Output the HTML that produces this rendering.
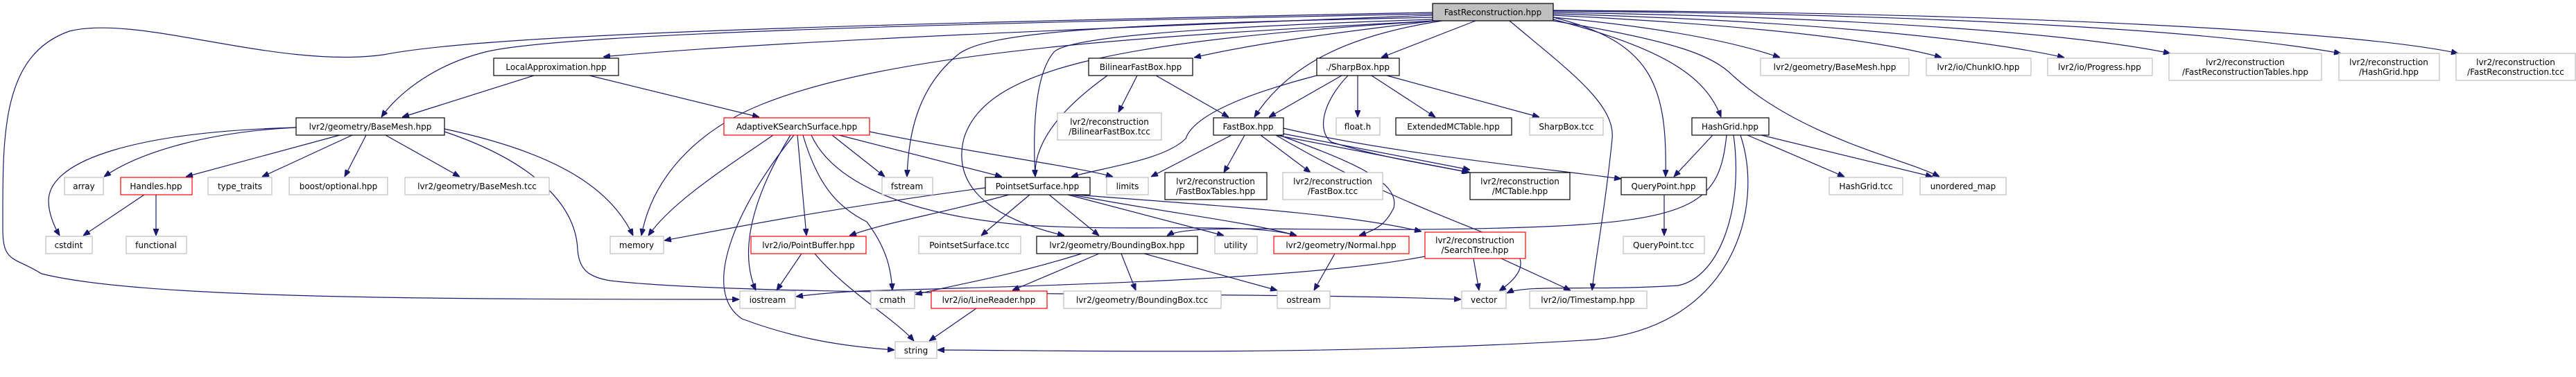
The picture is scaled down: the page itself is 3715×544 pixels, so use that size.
<!DOCTYPE html>
<html><head><meta charset="utf-8"><style>
html,body{margin:0;padding:0;background:#fff;}
svg{display:block;}
text{font-family:"DejaVu Sans","Liberation Sans",sans-serif;font-size:12px;fill:#000;}
.e{fill:none;stroke:#191970;stroke-width:1.2;marker-end:url(#a);}
.k{fill:#fff;stroke:#000;stroke-width:1.2;}
.g{fill:#fff;stroke:#bfbfbf;stroke-width:1.2;}
.r{fill:#fff;stroke:#ff0000;stroke-width:1.2;}
</style></head><body>
<svg width="3715" height="544" viewBox="0 0 3715 544" xmlns="http://www.w3.org/2000/svg">
<defs><marker id="a" markerWidth="10" markerHeight="8" refX="10" refY="4" orient="auto" markerUnits="userSpaceOnUse"><path d="M0,0 L10,4 L0,8 z" fill="#191970" stroke="#191970"/></marker></defs>
<g>
<path class="e" d="M2066,22 C1600,40 1100,60 870,82"/>
<path class="e" d="M2066,20 C1300,35 800,50 700,75 C620,95 570,140 550,169"/>
<path class="e" d="M2066,18 C1200,35 700,50 553,79 C400,100 200,20 100,45 C0,80 4,200 4,330 C4,380 20,370 60,395 C200,430 600,432 1066,432"/>
<path class="e" d="M2070,30 C1700,50 1300,70 1100,150 C1000,190 940,260 925,340"/>
<path class="e" d="M2066,25 C1600,35 1420,45 1380,80 C1320,130 1310,200 1308,255"/>
<path class="e" d="M2066,28 C1700,40 1540,55 1520,75 C1490,110 1490,200 1493,255"/>
<path class="e" d="M2070,30 C1600,60 1420,100 1390,200 C1370,280 1450,320 1535,340"/>
<path class="e" d="M2070,30 C1900,50 1800,65 1722,83"/>
<path class="e" d="M2128,30 L1992,83"/>
<path class="e" d="M2080,30 C1950,50 1860,90 1809,169"/>
<path class="e" d="M2177,30 C2260,100 2330,150 2325,200 C2315,300 2300,380 2296,419"/>
<path class="e" d="M2240,25 C2380,60 2405,120 2402,255"/>
<path class="e" d="M2240,28 C2400,70 2460,110 2482,169"/>
<path class="e" d="M2240,30 C2420,60 2470,80 2500,110 C2600,200 2750,230 2797,255"/>
<path class="e" d="M2240,25 C2400,40 2500,60 2567,83"/>
<path class="e" d="M2240,22 C2500,35 2700,55 2800,83"/>
<path class="e" d="M2240,20 C2600,30 2850,55 2977,83"/>
<path class="e" d="M2240,18 C2700,25 3000,50 3130,77"/>
<path class="e" d="M2240,16 C2800,20 3200,45 3376,77"/>
<path class="e" d="M2240,15 C2900,18 3400,45 3545,77"/>
<path class="e" d="M2470,195 L2414,255"/>
<path class="e" d="M2520,195 L2660,255"/>
<path class="e" d="M2540,195 L2787,255"/>
<path class="e" d="M2490,195 C2480,290 2450,320 2200,328 C1900,338 1720,320 1683,340"/>
<path class="e" d="M2500,195 C2515,300 2480,400 2420,412 C2300,420 2200,410 2173,423"/>
<path class="e" d="M2510,195 C2545,300 2500,470 2300,490 C1900,515 1500,505 1352,505"/>
<path class="e" d="M770,109 L580,169"/>
<path class="e" d="M850,109 L1095,169"/>
<path class="e" d="M427,184 C300,190 200,220 150,255"/>
<path class="e" d="M490,195 L268,255"/>
<path class="e" d="M508,195 L378,255"/>
<path class="e" d="M528,195 L497,255"/>
<path class="e" d="M556,195 L663,255"/>
<path class="e" d="M427,184 C200,190 70,230 70,290 C70,310 80,330 86,340"/>
<path class="e" d="M641,186 C800,220 880,270 913,340"/>
<path class="e" d="M641,190 C760,230 830,290 833,360 C835,390 850,400 880,405 C1100,430 1800,420 2107,432"/>
<path class="e" d="M208,281 L120,340"/>
<path class="e" d="M225,281 L225,340"/>
<path class="e" d="M1115,195 C1050,240 970,290 935,340"/>
<path class="e" d="M1140,195 C1100,260 1060,350 1090,419"/>
<path class="e" d="M1145,195 C1060,300 1010,420 1070,460 C1150,490 1220,500 1290,505"/>
<path class="e" d="M1150,195 L1163,340"/>
<path class="e" d="M1158,195 C1180,270 1210,300 1250,320 C1280,360 1285,390 1287,419"/>
<path class="e" d="M1200,195 L1276,255"/>
<path class="e" d="M1254,190 C1400,220 1550,240 1605,255"/>
<path class="e" d="M1210,195 L1445,255"/>
<path class="e" d="M1170,195 C1200,260 1300,310 1480,325 C1650,335 1800,320 1870,340"/>
<path class="e" d="M1421,271 C1200,300 1050,330 958,347"/>
<path class="e" d="M1640,109 L1613,162"/>
<path class="e" d="M1667,109 L1772,169"/>
<path class="e" d="M1597,109 C1540,150 1490,200 1493,255"/>
<path class="e" d="M1899,109 C1780,140 1720,170 1710,200 C1680,230 1600,240 1545,255"/>
<path class="e" d="M1935,109 L1830,169"/>
<path class="e" d="M1958,109 L1958,169"/>
<path class="e" d="M1978,109 L2070,169"/>
<path class="e" d="M2000,109 L2220,169"/>
<path class="e" d="M1944,109 C1905,150 1900,190 1920,205 C2000,230 2080,240 2118,249"/>
<path class="e" d="M1776,195 L1660,255"/>
<path class="e" d="M1795,195 L1765,249"/>
<path class="e" d="M1818,195 L1890,249"/>
<path class="e" d="M1840,195 L2120,249"/>
<path class="e" d="M1846,192 L2120,245"/>
<path class="e" d="M1851,185 C2000,220 2200,240 2338,258"/>
<path class="e" d="M1845,195 C1940,230 2020,260 2010,300 C2000,320 1990,330 1960,340"/>
<path class="e" d="M1840,195 C1950,260 2050,300 2150,340 C2220,370 2190,400 2162,420"/>
<path class="e" d="M1455,281 C1350,310 1280,320 1225,340"/>
<path class="e" d="M1485,281 L1415,340"/>
<path class="e" d="M1513,281 L1585,340"/>
<path class="e" d="M1540,281 L1765,340"/>
<path class="e" d="M1545,281 C1700,310 1800,320 1870,340"/>
<path class="e" d="M1550,281 C1800,300 1950,310 2050,334"/>
<path class="e" d="M1156,366 L1120,419"/>
<path class="e" d="M1175,366 C1220,420 1290,460 1318,492"/>
<path class="e" d="M1560,366 C1450,400 1380,410 1320,425"/>
<path class="e" d="M1585,366 L1460,419"/>
<path class="e" d="M1617,366 L1638,419"/>
<path class="e" d="M1650,366 L1842,419"/>
<path class="e" d="M2055,370 C1900,400 1600,410 1240,420 C1200,422 1170,425 1148,428"/>
<path class="e" d="M1925,366 L1895,419"/>
<path class="e" d="M2125,373 L2133,419"/>
<path class="e" d="M2165,373 L2265,419"/>
<path class="e" d="M2400,281 L2400,340"/>
<path class="e" d="M1408,445 L1340,492"/>
</g>
<g>
<rect x="2066" y="5" width="174" height="25" fill="#bfbfbf" stroke="#000" stroke-width="1.2"/><text x="2153" y="22" text-anchor="middle">FastReconstruction.hpp</text>
<rect class="k" x="712" y="84" width="180" height="25"/><text x="802" y="101" text-anchor="middle">LocalApproximation.hpp</text>
<rect class="k" x="427" y="170" width="214" height="25"/><text x="534" y="187" text-anchor="middle">lvr2/geometry/BaseMesh.hpp</text>
<rect class="r" x="1044" y="170" width="210" height="25"/><text x="1149" y="187" text-anchor="middle">AdaptiveKSearchSurface.hpp</text>
<rect class="k" x="1570" y="84" width="150" height="25"/><text x="1645" y="101" text-anchor="middle">BilinearFastBox.hpp</text>
<rect class="k" x="1899" y="84" width="119" height="25"/><text x="1958" y="101" text-anchor="middle">./SharpBox.hpp</text>
<rect class="g" x="2539" y="84" width="214" height="25"/><text x="2646" y="101" text-anchor="middle">lvr2/geometry/BaseMesh.hpp</text>
<rect class="g" x="2778" y="84" width="151" height="25"/><text x="2853" y="101" text-anchor="middle">lvr2/io/ChunkIO.hpp</text>
<rect class="g" x="2953" y="84" width="151" height="25"/><text x="3028" y="101" text-anchor="middle">lvr2/io/Progress.hpp</text>
<rect class="g" x="3128" y="77" width="220" height="39"/><text x="3238" y="94" text-anchor="middle">lvr2/reconstruction</text><text x="3238" y="108" text-anchor="middle">/FastReconstructionTables.hpp</text>
<rect class="g" x="3373" y="77" width="145" height="39"/><text x="3445" y="94" text-anchor="middle">lvr2/reconstruction</text><text x="3445" y="108" text-anchor="middle">/HashGrid.hpp</text>
<rect class="g" x="3542" y="77" width="172" height="39"/><text x="3628" y="94" text-anchor="middle">lvr2/reconstruction</text><text x="3628" y="108" text-anchor="middle">/FastReconstruction.tcc</text>
<rect class="g" x="1525" y="163" width="150" height="39"/><text x="1600" y="180" text-anchor="middle">lvr2/reconstruction</text><text x="1600" y="194" text-anchor="middle">/BilinearFastBox.tcc</text>
<rect class="k" x="1750" y="170" width="101" height="25"/><text x="1800" y="187" text-anchor="middle">FastBox.hpp</text>
<rect class="g" x="1927" y="170" width="63" height="25"/><text x="1958" y="187" text-anchor="middle">float.h</text>
<rect class="k" x="2013" y="170" width="167" height="25"/><text x="2096" y="187" text-anchor="middle">ExtendedMCTable.hpp</text>
<rect class="g" x="2206" y="170" width="106" height="25"/><text x="2259" y="187" text-anchor="middle">SharpBox.tcc</text>
<rect class="k" x="2440" y="170" width="111" height="25"/><text x="2495" y="187" text-anchor="middle">HashGrid.hpp</text>
<rect class="g" x="93" y="256" width="56" height="25"/><text x="121" y="273" text-anchor="middle">array</text>
<rect class="r" x="174" y="256" width="103" height="25"/><text x="225" y="273" text-anchor="middle">Handles.hpp</text>
<rect class="g" x="300" y="256" width="92" height="25"/><text x="346" y="273" text-anchor="middle">type_traits</text>
<rect class="g" x="417" y="256" width="142" height="25"/><text x="488" y="273" text-anchor="middle">boost/optional.hpp</text>
<rect class="g" x="584" y="256" width="208" height="25"/><text x="688" y="273" text-anchor="middle">lvr2/geometry/BaseMesh.tcc</text>
<rect class="g" x="1272" y="256" width="73" height="25"/><text x="1308" y="273" text-anchor="middle">fstream</text>
<rect class="k" x="1421" y="256" width="151" height="25"/><text x="1496" y="273" text-anchor="middle">PointsetSurface.hpp</text>
<rect class="g" x="1596" y="256" width="60" height="25"/><text x="1626" y="273" text-anchor="middle">limits</text>
<rect class="k" x="1680" y="249" width="147" height="39"/><text x="1753" y="266" text-anchor="middle">lvr2/reconstruction</text><text x="1753" y="280" text-anchor="middle">/FastBoxTables.hpp</text>
<rect class="g" x="1850" y="249" width="144" height="39"/><text x="1922" y="266" text-anchor="middle">lvr2/reconstruction</text><text x="1922" y="280" text-anchor="middle">/FastBox.tcc</text>
<rect class="k" x="2120" y="249" width="144" height="39"/><text x="2192" y="266" text-anchor="middle">lvr2/reconstruction</text><text x="2192" y="280" text-anchor="middle">/MCTable.hpp</text>
<rect class="k" x="2338" y="256" width="123" height="25"/><text x="2399" y="273" text-anchor="middle">QueryPoint.hpp</text>
<rect class="g" x="2638" y="256" width="106" height="25"/><text x="2691" y="273" text-anchor="middle">HashGrid.tcc</text>
<rect class="g" x="2769" y="256" width="124" height="25"/><text x="2831" y="273" text-anchor="middle">unordered_map</text>
<rect class="g" x="66" y="341" width="67" height="25"/><text x="99" y="358" text-anchor="middle">cstdint</text>
<rect class="g" x="182" y="341" width="87" height="25"/><text x="225" y="358" text-anchor="middle">functional</text>
<rect class="g" x="880" y="341" width="77" height="25"/><text x="918" y="358" text-anchor="middle">memory</text>
<rect class="r" x="1083" y="341" width="166" height="25"/><text x="1166" y="358" text-anchor="middle">lvr2/io/PointBuffer.hpp</text>
<rect class="g" x="1325" y="341" width="147" height="25"/><text x="1398" y="358" text-anchor="middle">PointsetSurface.tcc</text>
<rect class="k" x="1495" y="341" width="232" height="25"/><text x="1611" y="358" text-anchor="middle">lvr2/geometry/BoundingBox.hpp</text>
<rect class="g" x="1752" y="341" width="61" height="25"/><text x="1782" y="358" text-anchor="middle">utility</text>
<rect class="r" x="1837" y="341" width="195" height="25"/><text x="1934" y="358" text-anchor="middle">lvr2/geometry/Normal.hpp</text>
<rect class="r" x="2055" y="335" width="145" height="38"/><text x="2127" y="351" text-anchor="middle">lvr2/reconstruction</text><text x="2127" y="365" text-anchor="middle">/SearchTree.hpp</text>
<rect class="g" x="2341" y="341" width="117" height="25"/><text x="2399" y="358" text-anchor="middle">QueryPoint.tcc</text>
<rect class="g" x="1067" y="420" width="80" height="25"/><text x="1107" y="437" text-anchor="middle">iostream</text>
<rect class="g" x="1256" y="420" width="63" height="25"/><text x="1287" y="437" text-anchor="middle">cmath</text>
<rect class="r" x="1343" y="420" width="167" height="25"/><text x="1426" y="437" text-anchor="middle">lvr2/io/LineReader.hpp</text>
<rect class="g" x="1534" y="420" width="227" height="25"/><text x="1647" y="437" text-anchor="middle">lvr2/geometry/BoundingBox.tcc</text>
<rect class="g" x="1842" y="420" width="76" height="25"/><text x="1880" y="437" text-anchor="middle">ostream</text>
<rect class="g" x="2108" y="420" width="64" height="25"/><text x="2140" y="437" text-anchor="middle">vector</text>
<rect class="g" x="2206" y="420" width="169" height="25"/><text x="2290" y="437" text-anchor="middle">lvr2/io/Timestamp.hpp</text>
<rect class="g" x="1291" y="493" width="60" height="24"/><text x="1321" y="510" text-anchor="middle">string</text>
</g>
</svg>
</body></html>
